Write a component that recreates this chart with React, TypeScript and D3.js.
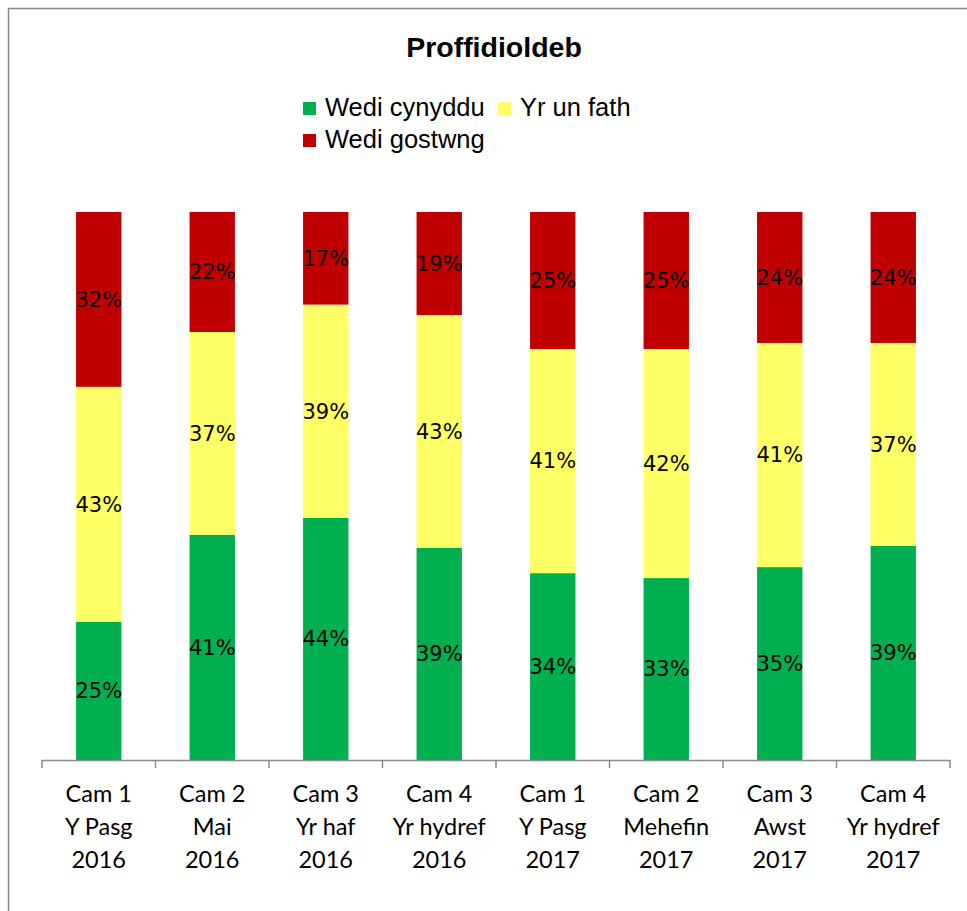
import React from 'react';
import * as d3 from 'd3';

// categories shown on the x axis, one line per entry
const categories = [
  ['Cam 1', 'Y Pasg', '2016'],
  ['Cam 2', 'Mai', '2016'],
  ['Cam 3', 'Yr haf', '2016'],
  ['Cam 4', 'Yr hydref', '2016'],
  ['Cam 1', 'Y Pasg', '2017'],
  ['Cam 2', 'Mehefin', '2017'],
  ['Cam 3', 'Awst', '2017'],
  ['Cam 4', 'Yr hydref', '2017'],
];

// percentages, bottom to top
const increased = [25.2, 41.1, 44.2, 38.7, 34.1, 33.2, 35.2, 39.1];
const same = [42.9, 37.0, 38.9, 42.5, 40.9, 41.8, 40.9, 37.0];
const decreased = [31.9, 21.9, 16.9, 18.8, 25.0, 25.0, 23.9, 23.9];

const seriesNames = ['Wedi cynyddu', 'Yr un fath', 'Wedi gostwng'];
const colors = ['#00b050', '#ffff66', '#c00000'];

const W = 967;
const H = 911;
const plot = { left: 42, right: 950, top: 212, bottom: 760 };

export default function App() {
  const rows = categories.map((c, i) => ({
    i,
    v0: increased[i],
    v1: same[i],
    v2: decreased[i],
  }));
  const stack = d3.stack<any>().keys(['v0', 'v1', 'v2'])(rows);

  const x = d3
    .scaleBand<number>()
    .domain(rows.map((r) => r.i))
    .range([plot.left, plot.right])
    .paddingInner(0.6)
    .paddingOuter(0.3);
  const y = d3.scaleLinear().domain([0, 100]).range([plot.bottom, plot.top]);

  const step = x.step();
  const ticks = d3.range(categories.length + 1).map((k) => plot.left + k * step);

  const fontAxis = 'Lato, "Open Sans", sans-serif';
  const fontLabel = '"DejaVu Sans", Verdana, sans-serif';
  const fontArial = '"Liberation Sans", Arial, sans-serif';

  return (
    <svg width={W} height={H} style={{ position: 'absolute', left: 0, top: 0 }}>
      <rect x={0} y={0} width={W} height={H} fill="#fff" />
      <rect x={8.5} y={8.5} width={W + 10} height={H + 10} fill="none" stroke="#868686" strokeWidth={1.5} />

      <text x={494} y={57} textAnchor="middle" fontFamily={fontArial} fontWeight="bold" fontSize={28.5} fill="#000">
        Proffidioldeb
      </text>

      {/* legend */}
      {[
        { s: 0, x: 303, y: 102 },
        { s: 1, x: 498, y: 102 },
        { s: 2, x: 303, y: 134 },
      ].map((l) => (
        <g key={l.s}>
          <rect x={l.x} y={l.y} width={13} height={13} fill={colors[l.s]} />
          <text x={l.x + 22} y={l.y + 14} fontFamily={fontArial} fontSize={25.5} fill="#000">
            {seriesNames[l.s]}
          </text>
        </g>
      ))}

      {stack.map((layer, s) => (
        <g key={s}>
          {layer.map((d, i) => (
            <rect
              key={i}
              x={x(i)}
              width={x.bandwidth()}
              y={y(d[1])}
              height={y(d[0]) - y(d[1])}
              fill={colors[s]}
            />
          ))}
          {layer.map((d, i) => (
            <text
              key={'t' + i}
              x={(x(i) as number) + x.bandwidth() / 2}
              y={(y(d[0]) + y(d[1])) / 2}
              dy="0.35em"
              textAnchor="middle"
              fontFamily={fontLabel}
              fontSize={21}
              fill="#000"
            >
              {Math.round(d[1] - d[0]) + '%'}
            </text>
          ))}
        </g>
      ))}

      {/* x axis */}
      <line x1={plot.left} x2={plot.right} y1={plot.bottom + 0.5} y2={plot.bottom + 0.5} stroke="#898989" strokeWidth={1.5} />
      {ticks.map((t, k) => (
        <line key={k} x1={t} x2={t} y1={plot.bottom} y2={plot.bottom + 8} stroke="#898989" strokeWidth={1.5} />
      ))}
      {categories.map((lines, i) => (
        <text
          key={i}
          x={(x(i) as number) + x.bandwidth() / 2}
          textAnchor="middle"
          fontFamily={fontAxis}
          fontSize={23.5}
          fill="#000"
        >
          {lines.map((ln, j) => (
            <tspan key={j} x={(x(i) as number) + x.bandwidth() / 2} y={802 + j * 33}>
              {ln}
            </tspan>
          ))}
        </text>
      ))}
    </svg>
  );
}
